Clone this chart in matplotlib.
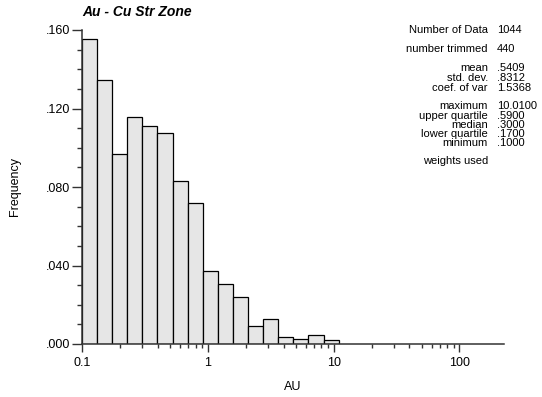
import numpy as np
import matplotlib.pyplot as plt
from matplotlib.ticker import FixedLocator, MultipleLocator, FuncFormatter, NullFormatter

plt.rcParams['font.family'] = ['Liberation Sans', 'DejaVu Sans']

# histogram data (log bins, 0.12 decade wide, starting at 0.1)
bin_start = 0.1
bin_step = 0.12
freq = [0.1554, 0.1347, 0.0967, 0.1155, 0.1109, 0.1077, 0.0832, 0.0717,
        0.0370, 0.0304, 0.0238, 0.0093, 0.0126, 0.0037, 0.0024, 0.0044, 0.0019]

stat_names = ['Number of Data', 'number trimmed', 'mean', 'std. dev.', 'coef. of var',
              'maximum', 'upper quartile', 'median', 'lower quartile', 'minimum', 'weights used']
stat_vals = ['1044', '440', '.5409', '.8312', '1.5368',
             '10.0100', '.5900', '.3000', '.1700', '.1000', '']
stat_y = [30, 49, 68, 78, 88, 106, 116, 125, 134, 143, 161]  # pixel rows

edges = bin_start * 10 ** (bin_step * np.arange(len(freq) + 1))

W, H = 542, 397
fig = plt.figure(figsize=(W / 100, H / 100), dpi=100)
ax = fig.add_axes([82 / W, 1 - 344 / H, (504 - 82) / W, 314 / H])

ax.bar(edges[:-1], freq, width=np.diff(edges), align='edge',
       color='#e6e6e6', edgecolor='black', linewidth=0.9, zorder=2)

ax.set_xscale('log')
ax.set_xlim(0.1, 226)
ax.set_ylim(0, 0.16)

for s in ['top', 'right']:
    ax.spines[s].set_visible(False)
for s in ['left', 'bottom']:
    ax.spines[s].set_color('#333333')
    ax.spines[s].set_linewidth(1.1)
    ax.spines[s].set_zorder(3)

ax.yaxis.set_major_locator(MultipleLocator(0.04))
ax.yaxis.set_minor_locator(MultipleLocator(0.01))
ax.yaxis.set_major_formatter(FuncFormatter(lambda v, p: ('%.3f' % v).lstrip('0')))
ax.xaxis.set_major_locator(FixedLocator([0.1, 1, 10, 100]))
ax.xaxis.set_major_formatter(FuncFormatter(lambda v, p: '%g' % v))
minor_x = [d * m for d in (0.1, 1, 10) for m in range(2, 10)]
ax.xaxis.set_minor_locator(FixedLocator(minor_x))
ax.xaxis.set_minor_formatter(NullFormatter())

ax.tick_params(axis='y', which='major', length=7.5, width=1, color='#333333', labelsize=9, pad=1)
ax.tick_params(axis='y', which='minor', length=3.8, width=1, color='#333333')
ax.tick_params(axis='x', which='major', length=6, width=1, color='#333333', labelsize=9, pad=3)
ax.tick_params(axis='x', which='minor', length=3, width=1, color='#333333')

ax.set_xlabel('AU', fontsize=9)
ax.set_ylabel('Frequency', fontsize=9)
ax.xaxis.set_label_coords(0.5, (344 - 387) / 314, transform=ax.transAxes)
ax.yaxis.set_label_coords((15 - 82) / 422, 0.5, transform=ax.transAxes)
ax.xaxis.label.set_va('center')
ax.yaxis.label.set_va('center')

fig.text(82 / W, 1 - 12 / H, 'Au - Cu Str Zone', fontsize=10, fontweight='bold',
         fontstyle='italic', ha='left', va='center')

for name, val, yp in zip(stat_names, stat_vals, stat_y):
    fig.text(488 / W, 1 - yp / H, name, fontsize=8, ha='right', va='center')
    fig.text(497 / W, 1 - yp / H, val, fontsize=8, ha='left', va='center')

fig.savefig('out.png', dpi=100)
